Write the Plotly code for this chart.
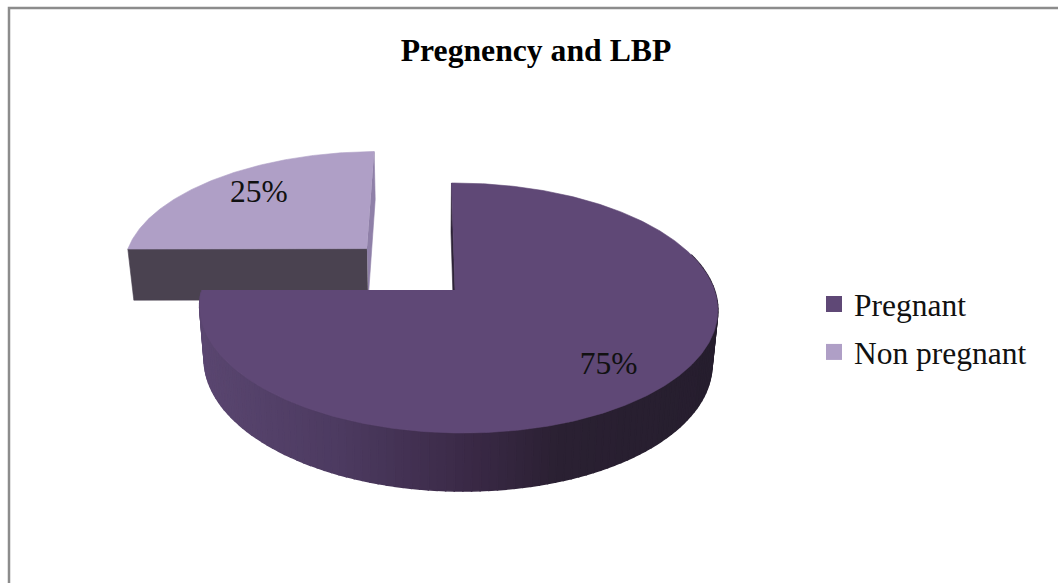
import numpy as np
import plotly.graph_objects as go

# ---- data ----
categories = ["Pregnant", "Non pregnant"]
values = [75, 25]
labels = ["75%", "25%"]
title_text = "Pregnency and LBP"

# ---- styles ----
top_colors = ["#5f4876", "#af9fc6"]
FONT = "Liberation Serif"
W, H = 1058, 583

# ---- projection of the tilted disc onto the page ----
APEX_X, APEX_Y = 455.0, 290.0
VP_X = 427.0
RX, RY = 256.0, 122.4
K_V, K_U = 0.144, -0.012
PULL = 0.505
BASE_SCALE = 0.98


def project(u, v, lower=False):
    u = np.asarray(u, float)
    v = np.asarray(v, float)
    s = 1.0 / (1.0 + K_V * v + K_U * u)
    x = VP_X + (APEX_X - VP_X + RX * u) * s
    y = APEX_Y - RY * v * s
    if lower:
        x = VP_X + (x - VP_X) * BASE_SCALE
        y = y + 23.0 + 30.0 * s
    return x, y


def poly(xs, ys, color, lw=0.6):
    return go.Scatter(x=list(xs), y=list(ys), mode="lines", fill="toself",
                      fillcolor=color, line=dict(color=color, width=lw),
                      hoverinfo="skip", showlegend=False)


def mix(stops, t):
    pos = [p for p, _ in stops]
    chan = [np.interp(t, pos, [c[i] for _, c in stops]) for i in range(3)]
    return "rgb(%d,%d,%d)" % tuple(int(round(c)) for c in chan)


# slice angles run clockwise from twelve o'clock
total = sum(values)
fracs = [v / total for v in values]
starts = np.cumsum([0] + fracs[:-1])
ends = np.cumsum(fracs)


def arc(i, n=160):
    a = np.pi / 2 - 2 * np.pi * np.linspace(starts[i], ends[i], n)
    return a


fig = go.Figure()
wall_stops = [(200, (90, 70, 112)), (340, (76, 58, 96)), (470, (58, 41, 70)),
              (560, (42, 32, 50)), (720, (38, 30, 46))]

# --- the pulled slice (second category) ---
mid = (starts[1] + ends[1]) / 2
mid_a = np.pi / 2 - 2 * np.pi * mid
ou, ov = PULL * np.cos(mid_a), PULL * np.sin(mid_a)
a1 = arc(1)
u1, v1 = ou + np.cos(a1), ov + np.sin(a1)

# thin edge at twelve o'clock
tx0, ty0 = project(ou, ov)
tx1, ty1 = project(u1[-1], v1[-1])
bx0, by0 = project(ou, ov, True)
bx1, by1 = project(u1[-1], v1[-1], True)
fig.add_trace(poly([tx0, tx1, bx1, bx0], [ty0, ty1, by1, by0], "#8f80a8"))
# front edge at nine o'clock
lx, ly = project(u1[0], v1[0])
lbx, lby = project(u1[0], v1[0], True)
fig.add_trace(poly([tx0, lx, lbx, bx0], [ty0, ly, lby, by0], "#4a4250"))
# top face
x1, y1 = project(u1, v1)
fig.add_trace(poly(np.r_[tx0, x1], np.r_[ty0, y1], top_colors[1]))

# --- the main slice (first category) ---
a0 = arc(0, 480)
u0, v0 = np.cos(a0), np.sin(a0)
# inner edge at twelve o'clock
ax, ay = project(0, 0)
abx, aby = project(0, 0, True)
ex, ey = project(u0[0], v0[0])
ebx, eby = project(u0[0], v0[0], True)
fig.add_trace(poly([ax, ex, ebx, abx], [ay, ey, eby, aby], "#2e2438"))
# outer wall, in narrow strips for the shading
xt, yt = project(u0, v0)
xb, yb = project(u0, v0, True)
step = 3
for j in range(0, len(a0) - step, step):
    if v0[j] > 0.3:
        continue
    c = mix(wall_stops, float(xt[j:j + step + 1].mean()))
    fig.add_trace(poly(np.r_[xt[j:j + step + 1], xb[j:j + step + 1][::-1], xt[j]],
                       np.r_[yt[j:j + step + 1], yb[j:j + step + 1][::-1], yt[j]], c, 1.5))
# top face
fig.add_trace(poly(np.r_[ax, xt], np.r_[ay, yt], top_colors[0]))

# --- percentage labels ---
mid0 = np.pi / 2 - 2 * np.pi * (starts[0] + ends[0]) / 2
lx0, ly0 = project(0.8 * np.cos(mid0), 0.8 * np.sin(mid0))
lx1, ly1 = project(ou + 0.8 * np.cos(mid_a), ov + 0.8 * np.sin(mid_a))
fig.add_trace(go.Scatter(x=[float(lx0) - 8, float(lx1) + 14], y=[float(ly0), float(ly1) + 3],
                         mode="text", text=labels, hoverinfo="skip", showlegend=False,
                         textfont=dict(family=FONT, size=31.5, color="#111111")))

# --- legend entries ---
for i, name in enumerate(categories):
    fig.add_trace(go.Scatter(x=[None], y=[None], mode="markers", name=name, legendgroup=name,
                             marker=dict(symbol="square", size=17, color=top_colors[i])))

fig.update_layout(
    width=W, height=H, autosize=False,
    margin=dict(l=0, r=0, t=0, b=0),
    paper_bgcolor="white", plot_bgcolor="white",
    xaxis=dict(range=[0, W], visible=False, fixedrange=True),
    yaxis=dict(range=[H, 0], visible=False, fixedrange=True),
    title=dict(text="<b>%s</b>" % title_text, x=536 / W, xanchor="center", y=1 - 50 / H, yanchor="middle",
               font=dict(family=FONT, size=31.7, color="black")),
    legend=dict(x=814 / W, y=1 - 328 / H, xanchor="left", yanchor="middle", bgcolor="rgba(0,0,0,0)",
                font=dict(family=FONT, size=31.5, color="#111111"), tracegroupgap=4, itemsizing="trace"),
    shapes=[dict(type="rect", xref="x", yref="y", x0=9, y0=8, x1=1100, y1=640,
                 line=dict(color="#8c8c8c", width=2.5), layer="below")],
)
fig.write_html("out.html", config=dict(displayModeBar=False),
               post_script="document.body.style.margin='0';")
